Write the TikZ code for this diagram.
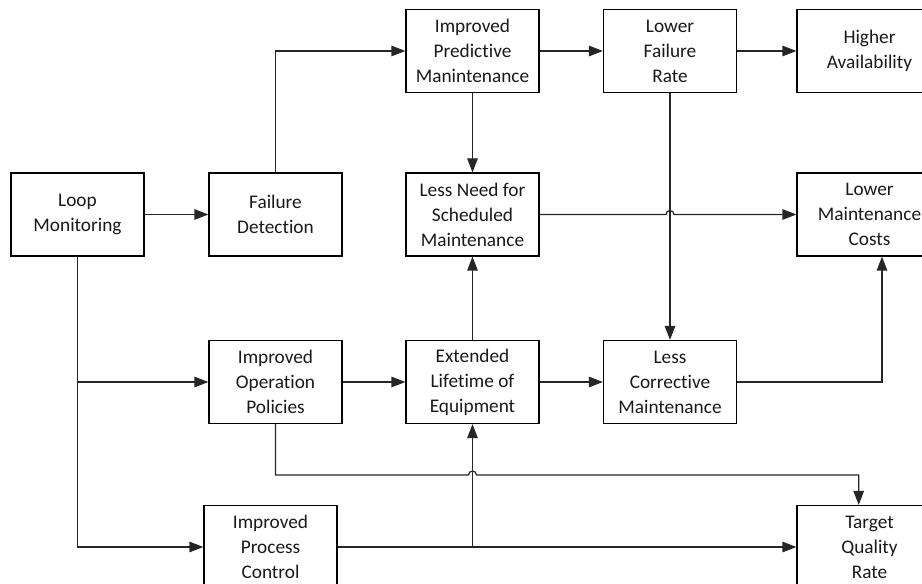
\documentclass[tikz,border=0pt]{standalone}
\usepackage{fontspec}
\setmainfont[Ligatures={NoCommon}]{Carlito}
\usetikzlibrary{arrows.meta}

\begin{document}
\begin{tikzpicture}[x=1pt,y=1pt,
  blk/.style={draw=black,line width=1.2pt,minimum width=133pt,minimum height=83pt,
    inner sep=0pt,align=center,font=\fontsize{19.3}{25}\selectfont,text=black!90},
  wide/.style={blk,minimum width=145pt},
  link/.style={draw=black!85,line width=1.2pt},
  arr/.style={link,-{Triangle[length=14pt,width=10.5pt]}}]
\useasboundingbox (0,0) rectangle (922,584);
\clip (0,0) rectangle (922,584);

% top row
\node[blk]  (ipm) at (472.5,533) {Improved\\Predictive\\Manintenance};
\node[blk]  (lfr) at (670,533)   {Lower\\Failure\\Rate};
\node[wide] (ha)  at (869.5,533) {Higher\\Availability};

% second row
\node[blk]  (loop) at (77.5,369.5)  {Loop\\Monitoring};
\node[blk]  (fd)   at (275.5,369.5) {Failure\\Detection};
\node[blk]  (need) at (472.5,369.5) {Less Need for\\Scheduled\\Maintenance};
\node[wide] (lmc)  at (869.5,369.5) {Lower\\Maintenance\\Costs};

% third row
\node[blk] (iop) at (275.5,202) {Improved\\Operation\\Policies};
\node[blk] (ext) at (472.5,202) {Extended\\Lifetime of\\Equipment};
\node[blk] (lcm) at (670,202)   {Less\\Corrective\\Maintenance};

% bottom row
\node[blk]  (ipc) at (270.5,37)  {Improved\\Process\\Control};
\node[wide] (tqr) at (869.5,37)  {Target\\Quality\\Rate};

% helper points
\coordinate (qy) at (0,109);
\coordinate (lmcin) at ([xshift=12.5pt]lmc.south);
\coordinate (tqrin) at ([xshift=-10.8pt]tqr.north);

% connectors
\draw[arr] (loop.east) -- (fd.west);
\draw[arr] (fd.north) |- (ipm.west);
\draw[arr] (ipm.east) -- (lfr.west);
\draw[arr] (lfr.east) -- (ha.west);
\draw[arr] (ipm.south) -- (need.north);
\draw[arr] (lfr.south) -- (lcm.north);
\draw[arr] (need.east) -- ([xshift=-4pt]lfr.south |- need.east)
  arc[start angle=180,end angle=0,radius=4pt] -- (lmc.west);
\draw[arr] (loop.south) |- (ipc.west);
\draw[arr] (loop.south |- iop.west) -- (iop.west);
\draw[arr] (iop.east) -- (ext.west);
\draw[arr] (ext.east) -- (lcm.west);
\draw[arr] (ext.north) -- (need.south);
\draw[arr] (lcm.east) -| (lmcin);
\draw[arr] (iop.south) -- (iop.south |- qy) -- ([xshift=-4pt]ext.south |- qy)
  arc[start angle=180,end angle=0,radius=4pt] -- (tqrin |- qy) -- (tqrin);
\draw[arr] (ipc.east) -- (tqr.west);
\draw[arr] (ext.south |- ipc.east) -- (ext.south);
\end{tikzpicture}
\end{document}
